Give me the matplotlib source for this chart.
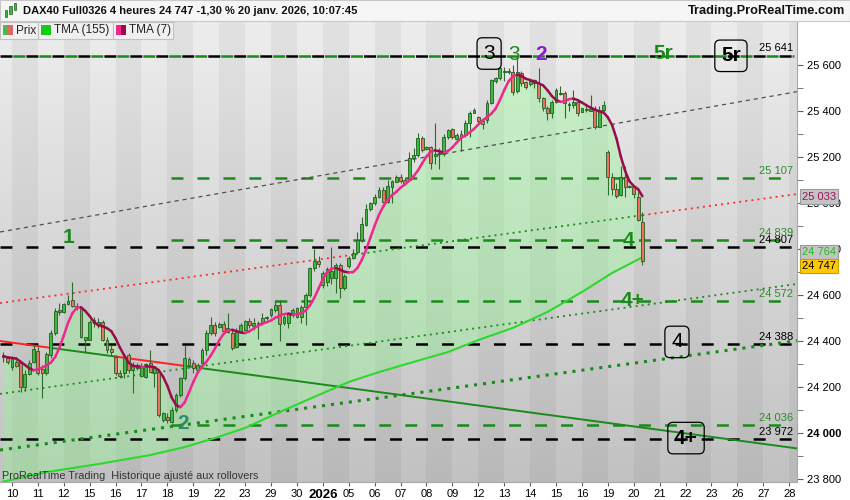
import numpy as np
import pandas as pd
import matplotlib
matplotlib.use('Agg')
import matplotlib.pyplot as plt
import matplotlib.transforms as mtransforms
from matplotlib.collections import LineCollection
from matplotlib.patches import Rectangle

plt.rcParams['font.family'] = ['Liberation Sans', 'DejaVu Sans']
plt.rcParams['lines.scale_dashes'] = False

# === DONNEES (bougies 4 heures, DAX40) ===
opens = [24329, 24325, 24289, 24310, 24306, 24199, 24257, 24310, 24357, 24279,
         24260, 24340, 24434, 24528, 24524, 24560, 24578, 24552, 24542, 24405,
         24405, 24477, 24470, 24484, 24405, 24365, 24332, 24260, 24260, 24339,
         24274, 24296, 24248, 24245, 24303, 24260, 24267, 24057, 24071, 24050,
         24100, 24166, 24238, 24321, 24303, 24274, 24303, 24361, 24433, 24470,
         24459, 24474, 24440, 24433, 24375, 24441, 24450, 24487, 24465, 24474,
         24480, 24498, 24513, 24535, 24556, 24480, 24477, 24513, 24506, 24506,
         24549, 24600, 24716, 24748, 24643, 24658, 24673, 24673, 24730, 24629,
         24726, 24763, 24788, 24839, 24905, 24972, 24998, 25025, 25056, 25006,
         25071, 25093, 25112, 25102, 25102, 25194, 25209, 25281, 25233, 25242,
         25205, 25213, 25215, 25288, 25320, 25277, 25299, 25296, 25346, 25393,
         25372, 25357, 25360, 25433, 25531, 25542, 25571, 25568, 25568, 25488,
         25564, 25527, 25517, 25520, 25520, 25455, 25412, 25393, 25441, 25475,
         25477, 25425, 25425, 25440, 25395, 25405, 25400, 25405, 25332, 25405,
         25223, 25115, 25060, 25035, 25114, 25075, 25068, 25027, 24919]
highs = [24354, 24335, 24332, 24318, 24315, 24274, 24318, 24383, 24376, 24296,
         24354, 24448, 24542, 24564, 24564, 24600, 24655, 24564, 24549, 24419,
         24491, 24506, 24499, 24491, 24419, 24383, 24339, 24274, 24339, 24347,
         24310, 24303, 24303, 24303, 24361, 24289, 24274, 24093, 24086, 24115,
         24173, 24245, 24383, 24332, 24318, 24303, 24368, 24448, 24506, 24484,
         24484, 24488, 24520, 24448, 24455, 24477, 24491, 24499, 24499, 24487,
         24520, 24510, 24542, 24578, 24578, 24513, 24528, 24542, 24549, 24556,
         24607, 24723, 24799, 24770, 24705, 24720, 24810, 24740, 24737, 24690,
         24770, 24800, 24875, 24940, 24996, 25005, 25041, 25071, 25071, 25100,
         25100, 25120, 25125, 25110, 25220, 25240, 25305, 25293, 25250, 25250,
         25350, 25240, 25300, 25320, 25325, 25305, 25316, 25360, 25400, 25415,
         25380, 25370, 25450, 25540, 25550, 25590, 25590, 25585, 25600, 25640,
         25575, 25530, 25540, 25540, 25585, 25460, 25420, 25450, 25500, 25510,
         25487, 25440, 25490, 25450, 25415, 25420, 25470, 25420, 25420, 25445,
         25230, 25130, 25085, 25160, 25160, 25080, 25075, 25050, 24962]
lows = [24310, 24300, 24274, 24285, 24180, 24184, 24253, 24303, 24253, 24151,
        24253, 24325, 24426, 24513, 24520, 24557, 24549, 24535, 24412, 24354,
        24405, 24462, 24455, 24398, 24347, 24339, 24252, 24238, 24238, 24260,
        24173, 24274, 24245, 24238, 24267, 24202, 24071, 24050, 24042, 24042,
        24093, 24158, 24231, 24289, 24260, 24267, 24289, 24340, 24426, 24420,
        24455, 24440, 24433, 24361, 24368, 24433, 24443, 24455, 24447, 24410,
        24470, 24490, 24506, 24528, 24400, 24470, 24455, 24506, 24499, 24477,
        24469, 24593, 24706, 24720, 24630, 24640, 24650, 24609, 24587, 24620,
        24716, 24755, 24780, 24830, 24900, 24965, 24990, 25020, 24998, 25000,
        25000, 25090, 25085, 25080, 25097, 25180, 25200, 25220, 25230, 25150,
        25170, 25150, 25205, 25280, 25280, 25270, 25225, 25285, 25285, 25390,
        25340, 25320, 25350, 25430, 25520, 25535, 25530, 25560, 25470, 25480,
        25510, 25495, 25510, 25500, 25440, 25400, 25360, 25370, 25435, 25470,
        25370, 25400, 25415, 25380, 25395, 25395, 25400, 25320, 25330, 25400,
        25035, 25035, 25020, 25030, 25025, 25065, 25020, 24920, 24730]
closes = [24335, 24310, 24321, 24292, 24199, 24257, 24303, 24364, 24260, 24260,
          24342, 24434, 24531, 24535, 24560, 24574, 24552, 24547, 24419, 24419,
          24484, 24491, 24484, 24405, 24361, 24354, 24260, 24248, 24329, 24274,
          24296, 24282, 24289, 24299, 24267, 24282, 24079, 24086, 24057, 24100,
          24166, 24238, 24325, 24296, 24282, 24296, 24361, 24433, 24470, 24433,
          24474, 24445, 24455, 24368, 24441, 24470, 24487, 24470, 24477, 24480,
          24501, 24505, 24538, 24556, 24474, 24506, 24520, 24535, 24542, 24549,
          24600, 24716, 24748, 24734, 24696, 24712, 24706, 24730, 24629, 24683,
          24763, 24784, 24839, 24909, 24972, 24998, 25027, 25056, 25006, 25075,
          25097, 25112, 25097, 25089, 25194, 25209, 25281, 25230, 25242, 25175,
          25213, 25213, 25288, 25317, 25288, 25296, 25285, 25346, 25393, 25404,
          25357, 25345, 25433, 25535, 25542, 25585, 25575, 25572, 25484, 25568,
          25523, 25506, 25531, 25535, 25455, 25412, 25393, 25441, 25491, 25480,
          25433, 25430, 25440, 25393, 25412, 25404, 25410, 25332, 25405, 25425,
          25115, 25060, 25032, 25114, 25070, 25070, 25040, 24926, 24747]

# TMA(155) (indice de bougie, valeur)
tma155_bars = [0, 10, 22, 34, 42, 49, 56, 64, 72, 80, 87, 95, 103, 110, 118, 126, 134, 141, 148]
tma155_vals = [23789, 23830, 23865, 23904, 23939, 23978, 24022, 24091, 24157, 24222,
               24265, 24309, 24352, 24404, 24457, 24526, 24613, 24696, 24764]

day_labels = ['10', '11', '12', '15', '16', '17', '18', '19', '22', '23', '29', '30',
              '2026', '05', '06', '07', '08', '09', '12', '13', '14', '15', '16', '19',
              '20', '21', '22', '23', '26', '27', '28']

# niveaux horizontaux
levels_black = [25641, 24807, 24388, 23972]
levels_green = [25641, 25107, 24839, 24572, 24036]

# lignes obliques : (prix a gauche, prix a droite)
trend_solid = (24400, 23933)
trend_dotted_thin = (24565, 25039)
trend_grey = (24874, 25484)
trend_green_thin = (24170, 24648)
trend_green_thick = (23926, 24401)

marker_texts = ['3', '3', '2', '5r', '5r', '1', '4', '4+', '4', '4+', '2']
marker_bars = [112.5, 118.3, 124.5, 152.8, 168.5, 15, 144.7, 145.8, 156, 158.1, 41.6]
marker_prices = [25650, 25645, 25645, 25648, 25640, 24848, 24839, 24578, 24396, 23978, 24043]
marker_colors = ['black', '#1a8a1a', '#8a1ad0', '#1a8a1a', 'black', '#1a8a1a',
                 '#1a8a1a', '#1a8a1a', 'black', 'black', '#2a8a6a']

W, H = 850, 500
XMIN, XMAX = -0.764, 183.8
YMIN, YMAX = 23787, 25787

fig = plt.figure(figsize=(8.5, 5), dpi=100)
fig.patch.set_facecolor('white')
ax = fig.add_axes([0, 18 / H, 797 / W, 460 / H])

n = len(closes)
bars = np.arange(n)
o = np.array(opens, float)
c = np.array(closes, float)
hi = np.array(highs, float)
lo = np.array(lows, float)

# fond degrade + bandes journalieres
grad = np.linspace(0.93, 0.76, 256)[:, None] * np.ones((1, 2))
ax.imshow(np.dstack([grad] * 3), extent=(XMIN, XMAX, YMIN, YMAX), aspect='auto',
          zorder=0, interpolation='bilinear')
tick_bars = [2 + 6 * i for i in range(len(day_labels))]
for i, tb in enumerate(tick_bars):
    if i % 2 == 0:
        ax.axvspan(tb, tb + 6, color='black', alpha=0.045, lw=0, zorder=0.5)

# TMA(7) calculee sur les clotures
tma7 = pd.Series(c).rolling(4, min_periods=1).mean().rolling(4, min_periods=1).mean().to_numpy()

# zone verte entre TMA7 et TMA155
ax.fill(np.concatenate([bars, tma155_bars[::-1]]),
        np.concatenate([tma7, tma155_vals[::-1]]),
        color='#8cff8c', alpha=0.35, lw=0, zorder=1)

# niveaux horizontaux
hdash = (0, (8.6, 10.1))
green_start = 38.8
for lv in levels_black:
    ax.plot([XMIN, 183], [lv, lv], color='black', lw=1.8, ls=hdash, zorder=2)
for lv in levels_green:
    if lv == 25641:
        ax.plot([XMIN, 183], [lv, lv], color='#1a8a1a', lw=1.8, ls=(9.4, (8.6, 10.1)), zorder=2)
    else:
        ax.plot([green_start, 183], [lv, lv], color='#1a8a1a', lw=1.8, ls=hdash, zorder=2)

for lv in levels_black:
    ax.annotate(f'{lv:,}'.replace(',', ' '), (182.9, lv), xytext=(0, 1.5),
                textcoords='offset points', ha='right', va='bottom', fontsize=8,
                color='black', zorder=6)
for lv in levels_green:
    if lv == 25641:
        continue
    ax.annotate(f'{lv:,}'.replace(',', ' '), (182.9, lv), xytext=(0, 1.5),
                textcoords='offset points', ha='right', va='bottom', fontsize=8,
                color='#2e8b2e', zorder=6)


def trend(p0, p1, breaks, colors, **kw):
    edges = [XMIN] + breaks + [XMAX]
    for i in range(len(edges) - 1):
        xa, xb = edges[i], edges[i + 1]
        ya = p0 + (p1 - p0) * (xa - XMIN) / (XMAX - XMIN)
        yb = p0 + (p1 - p0) * (xb - XMIN) / (XMAX - XMIN)
        ax.plot([xa, xb], [ya, yb], color=colors[i], **kw)


trend(*trend_grey, [], ['#505050'], lw=0.9, ls=(0, (3.0, 2.8)), zorder=2)
trend(*trend_dotted_thin, [81.5, 148], ['#ff2a2a', '#1a8a1a', '#ff2a2a'],
      lw=1.3, ls=(0, (1.4, 3.0)), zorder=2)
trend(*trend_green_thin, [], ['#1a8a1a'], lw=1.3, ls=(0, (1.4, 3.0)), zorder=2)
trend(*trend_green_thick, [], ['#1a8a1a'], lw=2.2, ls=(0, (2.2, 4.3)), zorder=2)
trend(*trend_solid, [10.8, 25.9, 42.3], ['#ff2020', '#1a8a1a', '#ff2020', '#1a8a1a'],
      lw=1.4, zorder=2.5)

# TMA(155)
ax.plot(tma155_bars, tma155_vals, color='#2ed82e', lw=1.5, zorder=3)

# bougies
up = c >= o
ax.vlines(bars, lo, hi, color='#2b6b2b', lw=0.8, zorder=4)
ax.bar(bars, np.maximum(np.abs(c - o), 3), bottom=np.minimum(o, c), width=0.66,
       color=np.where(up, '#3dba3d', '#e8735f'), edgecolor='#245c24', linewidth=0.6, zorder=4.5)

# TMA(7) bicolore
pts = np.column_stack([bars, tma7])
segs = np.stack([pts[:-1], pts[1:]], axis=1)
cols = np.where(np.diff(tma7) >= 0, '#f0288c', '#9c0a4e')
ax.add_collection(LineCollection(segs, colors=cols, lw=1.8, zorder=5, capstyle='round'))

# reperes
bold = [False, False, True, True, True, True, True, True, False, True, True]
boxed = [True, False, False, False, True, False, False, False, True, True, False]
for t, b, p, col, bw, bx in zip(marker_texts, marker_bars, marker_prices, marker_colors, bold, boxed):
    kw = {}
    if bx:
        kw['bbox'] = dict(boxstyle='round,pad=0.3,rounding_size=0.25', fc='none', ec='black', lw=0.9)
    ax.text(b, p, t, ha='center', va='center', fontsize=15, color=col,
            weight='bold' if bw else 'normal', zorder=7, **kw)

# axes
ax.set_xlim(XMIN, XMAX)
ax.set_ylim(YMIN, YMAX)
ax.yaxis.tick_right()
yt = list(range(23800, 25601, 200))
ax.set_yticks(yt, labels=[f'{v:,}'.replace(',', ' ') for v in yt])
ax.set_yticks(range(23900, 25601, 200), minor=True)
for lab, v in zip(ax.get_yticklabels(), yt):
    if v == 24000:
        lab.set_fontweight('bold')
ax.set_xticks(tick_bars, labels=day_labels)
for lab in ax.get_xticklabels():
    if lab.get_text() == '2026':
        lab.set_fontweight('bold')
        lab.set_fontsize(9.5)
ax.tick_params(axis='y', which='both', direction='out', length=4, color='#606060',
               labelsize=8, pad=3, labelcolor='black')
ax.tick_params(axis='x', direction='out', length=3, color='#606060', labelsize=8, pad=2)
for lab in ax.get_xticklabels():
    if lab.get_text() == '2026':
        lab.set_fontsize(9.5)
for s in ['left', 'top']:
    ax.spines[s].set_visible(False)
for s in ['right', 'bottom']:
    ax.spines[s].set_color('#a8a8a8')

# etiquettes de valeur sur l'axe
blend = mtransforms.blended_transform_factory(ax.transAxes, ax.transData)
ax.text(1.006, 25028, '25 033', transform=blend, fontsize=8, color='#a0105a', va='center',
        ha='left', zorder=10, clip_on=False,
        bbox=dict(boxstyle='square,pad=0.2', fc='#c4c4c4', ec='#9a9a9a', lw=0.8))
ax.text(1.006, 24787, '24 764', transform=blend, fontsize=8, color='#22b822', va='center',
        ha='left', zorder=10, clip_on=False,
        bbox=dict(boxstyle='square,pad=0.2', fc='#c4c4c4', ec='#9a9a9a', lw=0.8))
ax.text(1.006, 24727, '24 747', transform=blend, fontsize=8, color='black', va='center',
        ha='left', zorder=10, clip_on=False,
        bbox=dict(boxstyle='square,pad=0.2', fc='#ffc800', ec='#c8a000', lw=0.8))


def fx(x):
    return x / W


def fy(y):
    return 1 - y / H


# barre de titre
fig.patches.append(Rectangle((0, fy(21)), 1, 21 / H, transform=fig.transFigure,
                             fc='#f6f6f6', ec='#c8c8c8', lw=0.8, zorder=0))
for x0, y0, y1 in [(6, 10, 17), (10.5, 6, 14), (15, 3, 10)]:
    fig.patches.append(Rectangle((fx(x0 - 1.2), fy(y1)), 2.4 / W, (y1 - y0) / H,
                                 transform=fig.transFigure, fc='#3dba3d', ec='#245c24', lw=0.5))
fig.text(fx(23), fy(11), 'DAX40 Full0326 4 heures 24 747 -1,30 % 20 janv. 2026, 10:07:45',
         fontsize=8, weight='bold', va='center', ha='left', color='#111111')
fig.text(fx(845), fy(11), 'Trading.ProRealTime.com', fontsize=9.2, weight='bold',
         va='center', ha='right', color='#111111')

# legende
leg = [('Prix', 0, 37.7, ['#4cb84c', '#e06666']),
       ('TMA (155)', 37.7, 112.7, ['#11cc11', '#11cc11']),
       ('TMA (7)', 112.7, 173, ['#f0288c', '#9c0a4e'])]
for txt, x0, x1, sq in leg:
    fig.patches.append(Rectangle((fx(x0), fy(39)), (x1 - x0) / W, 17 / H,
                                 transform=fig.transFigure, fc='#f0f0f0', ec='#c0c0c0', lw=0.8))
    fig.patches.append(Rectangle((fx(x0 + 3), fy(35)), 5 / W, 10 / H,
                                 transform=fig.transFigure, fc=sq[0], ec='none'))
    fig.patches.append(Rectangle((fx(x0 + 8), fy(35)), 5 / W, 10 / H,
                                 transform=fig.transFigure, fc=sq[1], ec='none'))
    fig.text(fx(x0 + 16), fy(30.5), txt, fontsize=8.5, va='center', ha='left', color='#222222')

fig.text(fx(2), fy(476), 'ProRealTime Trading  Historique ajusté aux rollovers',
         fontsize=7.8, va='center', ha='left', color='#333333')

plt.savefig('out.png', dpi=100)
